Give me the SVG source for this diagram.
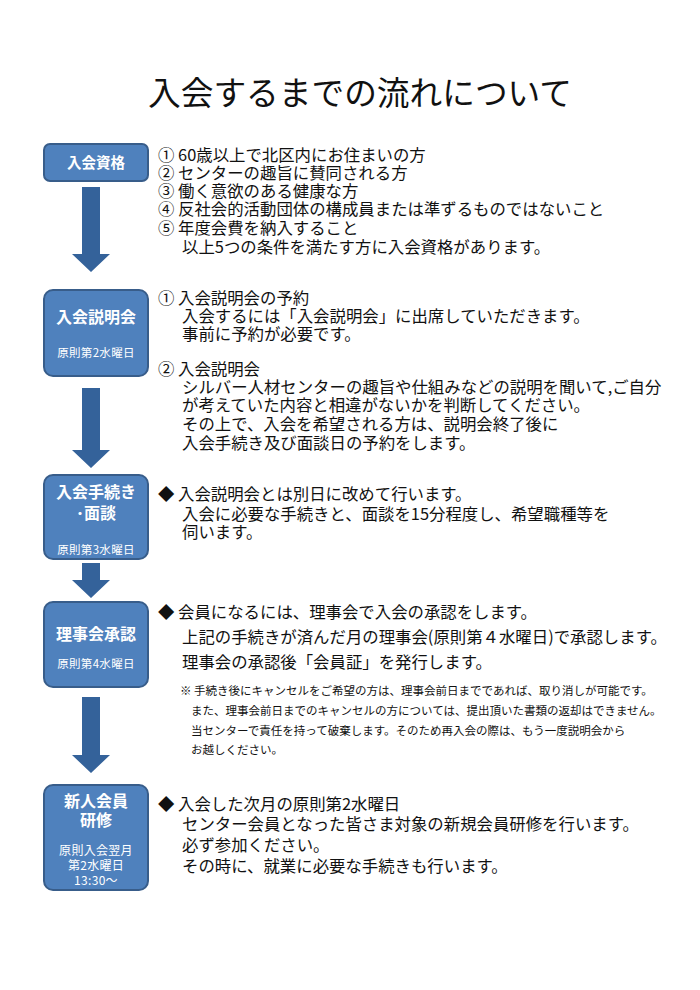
<svg xmlns="http://www.w3.org/2000/svg" width="700" height="990" viewBox="0 0 700 990">
<style>
.box{fill:#4f81bd;stroke:#385d8a;stroke-width:2}
.arr{fill:#34629a}
.bt{font-family:"Noto Sans CJK JP","Noto Sans",sans-serif;fill:#fff;font-weight:bold;text-anchor:middle}
.bs{font-family:"Noto Sans CJK JP","Noto Sans",sans-serif;fill:#fff;font-size:11.5px;text-anchor:middle;letter-spacing:0.3px}
.t{font-family:"Noto Sans CJK JP","Noto Sans",sans-serif;fill:#111;font-size:16.4px}
.n{font-family:"Noto Sans CJK JP","Noto Sans",sans-serif;fill:#111;font-size:11.5px}
.ti{font-family:"Noto Sans CJK JP","Noto Sans",sans-serif;fill:#111;font-size:33px}
</style>
<rect width="700" height="990" fill="#fff"/>
<text class="ti" x="148" y="105" textLength="424" lengthAdjust="spacingAndGlyphs">入会するまでの流れについて</text>

<g id="connectors">
<polygon class="arr" points="82,187 100,187 100,254 110,254 91,272 72,254 82,254"/>
<polygon class="arr" points="82,388 100,388 100,450 110,450 91,468 72,450 82,450"/>
<polygon class="arr" points="82,563 100,563 100,580 110,580 91,598 72,580 82,580"/>
<polygon class="arr" points="82,697 100,697 100,755 110,755 91,773 72,755 82,755"/>
</g>

<g id="node1">
<rect class="box" x="44" y="144" width="104" height="37" rx="6"/>
<text class="bt" x="96" y="168" font-size="14.5">入会資格</text>
</g>
<g id="node2">
<rect class="box" x="44" y="290" width="104" height="86" rx="9"/>
<text class="bt" x="96" y="323" font-size="16">入会説明会</text>
<text class="bs" x="96" y="357">原則第2水曜日</text>
</g>
<g id="node3">
<rect class="box" x="44" y="475" width="104" height="84" rx="9"/>
<text class="bt" font-size="16"><tspan x="96" y="498">入会手続き</tspan><tspan x="96" y="519">･面談</tspan></text>
<text class="bs" x="96" y="554">原則第3水曜日</text>
</g>
<g id="node4">
<rect class="box" x="44" y="602" width="104" height="85" rx="9"/>
<text class="bt" x="96" y="640" font-size="16">理事会承認</text>
<text class="bs" x="96" y="668">原則第4水曜日</text>
</g>
<g id="node5">
<rect class="box" x="44" y="785" width="104" height="105" rx="9"/>
<text class="bt" font-size="16"><tspan x="96" y="807">新人会員</tspan><tspan x="96" y="826">研修</tspan></text>
<text class="bs" style="font-size:12px"><tspan x="96" y="855">原則入会翌月</tspan><tspan x="96" y="870">第2水曜日</tspan><tspan x="96" y="885">13:30～</tspan></text>
</g>

<g id="text1">
<text class="t"><tspan x="158" y="161">① 60歳以上で北区内にお住まいの方</tspan><tspan x="158" y="179">② センターの趣旨に賛同される方</tspan><tspan x="158" y="197">③ 働く意欲のある健康な方</tspan><tspan x="158" y="215">④ 反社会的活動団体の構成員または準ずるものではないこと</tspan><tspan x="158" y="234">⑤ 年度会費を納入すること</tspan><tspan x="182" y="253">以上5つの条件を満たす方に入会資格があります。</tspan></text>
</g>
<g id="text2">
<text class="t"><tspan x="158" y="304">① 入会説明会の予約</tspan><tspan x="182" y="322">入会するには「入会説明会」に出席していただきます。</tspan><tspan x="182" y="340">事前に予約が必要です。</tspan><tspan x="158" y="375">② 入会説明会</tspan><tspan x="182" y="393">シルバー人材センターの趣旨や仕組みなどの説明を聞いて,ご自分</tspan><tspan x="182" y="411">が考えていた内容と相違がないかを判断してください。</tspan><tspan x="182" y="430">その上で、入会を希望される方は、説明会終了後に</tspan><tspan x="182" y="449">入会手続き及び面談日の予約をします。</tspan></text>
</g>
<g id="text3">
<text class="t"><tspan x="158" y="500">◆ 入会説明会とは別日に改めて行います。</tspan><tspan x="182" y="520">入会に必要な手続きと、面談を15分程度し、希望職種等を</tspan><tspan x="182" y="538">伺います。</tspan></text>
</g>
<g id="text4">
<text class="t"><tspan x="158" y="618">◆ 会員になるには、理事会で入会の承認をします。</tspan><tspan x="182" y="643">上記の手続きが済んだ月の理事会(原則第４水曜日)で承認します。</tspan><tspan x="182" y="668">理事会の承認後「会員証」を発行します。</tspan></text>
<text class="n"><tspan x="180" y="695">※ 手続き後にキャンセルをご希望の方は、理事会前日までであれば、取り消しが可能です。</tspan><tspan x="191" y="715">また、理事会前日までのキャンセルの方については、提出頂いた書類の返却はできません。</tspan><tspan x="191" y="735">当センターで責任を持って破棄します。そのため再入会の際は、もう一度説明会から</tspan><tspan x="191" y="754">お越しください。</tspan></text>
</g>
<g id="text5">
<text class="t"><tspan x="158" y="810">◆ 入会した次月の原則第2水曜日</tspan><tspan x="182" y="830">センター会員となった皆さま対象の新規会員研修を行います。</tspan><tspan x="182" y="851">必ず参加ください。</tspan><tspan x="182" y="872">その時に、就業に必要な手続きも行います。</tspan></text>
</g>
</svg>
